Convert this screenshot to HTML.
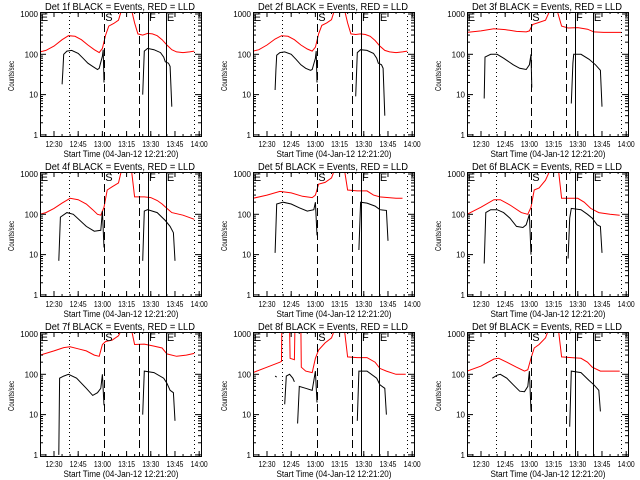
<!DOCTYPE html>
<html><head><meta charset="utf-8"><style>
body{margin:0;background:#fff;}
svg{display:block;}
text{font-family:"Liberation Sans",sans-serif;fill:#000;}
</style></head><body>
<svg id="chart" width="640" height="480" viewBox="0 0 640 480"></svg>
<script>
const panelTitles=["Det 1f BLACK = Events, RED = LLD","Det 2f BLACK = Events, RED = LLD","Det 3f BLACK = Events, RED = LLD","Det 4f BLACK = Events, RED = LLD","Det 5f BLACK = Events, RED = LLD","Det 6f BLACK = Events, RED = LLD","Det 7f BLACK = Events, RED = LLD","Det 8f BLACK = Events, RED = LLD","Det 9f BLACK = Events, RED = LLD"];
const xTickLabels=["12:30","12:45","13:00","13:15","13:30","13:45","14:00"];
const xTickMinutes=[30,45,60,75,90,105,120];
const yTickValues=[1,10,100,1000];
const yTickLabels=["1","10","100","1000"];
const markerTimes=[39.3,61,82.7,88.3,99.4,116.8];
const markerStyles=["dot","dash","dash","solid","solid","dot"];
const letterTimes=[21.8,61.8,88.9,100];
const letterLabels=["E","S","F","E"];
// minutes after 12:00
const redT=[
[21.3,25,30,35,39,43,47,51,55,58,60,62,64,67,70,72,78,80,82,85,88,91,94,97,100,103,106,110,114,117],
[21.3,25,30,35,39,43,47,51,55,58,60,62,64,67,70,72,78,80,82,85,88,91,94,97,100,103,106,110,114,117],
[21.3,30,38,45,52,58,60,62,66,70,73,77,80,84,90,96,100,106,117],
[21.3,25,30,35,40,45,50,54,57,59,61,63,66,70,72,78,80,86,90,94,97,100,103,110,117],
[21.3,30,38,45,52,58,60,62,66,70,72,78,80,86,92,96,100,110,114],
[21.3,30,38,42,48,55,59,61,63,66,70,73,78,80,86,90,94,98,103,110,116],
[21.3,30,36,40,45,50,55,58,60,62,66,70,72,78,80,86,92,97,100,106,112,117],
[21.3,30,38,39,39.2,44,44.3,47,47.3,51,51.3,54,58,60,62,66,70,72,78,80,86,92,97,100,104,110,116],
[21.3,30,38,41,46,52,57,59,61,63,66,70,72,78,80,86,92,96,99,104,110,116]];
const redV=[
[115,125,160,230,290,280,230,170,130,110,140,300,500,580,700,1300,1300,600,320,300,330,320,290,230,170,130,115,110,115,120],
[120,130,170,240,290,280,230,170,135,120,150,320,520,600,720,1300,1300,600,320,310,320,310,280,220,160,125,115,110,115,120],
[350,380,430,410,370,360,380,550,620,700,1300,1300,500,450,460,420,360,350,350],
[100,110,140,190,250,230,180,130,100,95,150,400,480,600,1300,1300,270,270,260,220,180,140,110,95,75],
[250,300,370,340,280,260,300,560,620,800,1300,1300,400,380,380,300,270,250,250],
[100,150,230,230,170,110,100,150,400,450,700,1300,1300,250,250,250,200,140,110,100,95],
[300,380,460,480,430,380,300,280,550,650,700,900,1300,1300,550,560,500,450,320,280,300,330],
[110,150,200,210,1300,1300,250,230,1300,1300,150,120,110,250,400,600,800,1300,1300,270,260,260,200,140,120,100,100],
[120,160,240,250,200,150,120,130,250,450,550,800,1300,1300,270,260,250,200,150,120,120,120]];
const blackT=[
[35,35.5,36,38,41,45,48,51,54,57,58,60,60.5,61,null,85,86,88,92,96,98,99,101,102,103],
[35,35.5,36,38,41,45,48,51,54,57,58,60,60.5,61,null,85,86,88,92,96,98,99,101,102,103],
[32,32.5,36,40,44,50,54,58,60,61,61.5,null,86,87,87.5,92,97,101,104,105],
[33,34,38,42,50,55,59,60,61,null,85,86,88,94,99,102,104,105],
[35,36,40,45,50,55,59,60,61,null,87,88,92,97,100,104,105],
[32,33,36,40,44,48,52,56,58,60,61,null,84,85,86,92,96,99,102,104,105],
[33,33.5,36,39,44,50,54,57,59,60,61,null,85,86,92,98,100,102,104,105],
[35,36,null,41,42,44,46,47,null,49,50,54,58,60,61,null,86,87,92,98,100,103,104],
[37,40,42,46,50,54,57,59,60,61,null,85,86,92,97,100,103,104]];
const blackV=[
[18,40,100,120,125,105,80,60,50,42,45,90,130,20,null,10,120,140,130,110,85,65,60,50,5],
[13,40,95,110,115,100,75,55,45,40,42,80,120,20,null,9,110,130,125,105,80,60,55,45,3],
[8,85,100,100,80,55,45,42,55,100,15,null,6,60,100,100,75,55,40,5],
[7,85,110,100,50,38,40,120,15,null,7,120,130,110,70,50,35,7],
[11,180,200,180,145,120,130,200,30,null,13,200,190,160,130,125,22],
[6,110,130,130,110,80,50,47,55,100,10,null,8,80,140,130,100,80,55,50,11],
[1,80,90,100,80,45,30,35,45,100,17,null,10,120,110,80,60,40,35,7],
[90,85,null,18,90,100,80,65,null,6,50,45,40,120,20,null,7,120,120,80,55,45,10],
[80,95,100,80,55,38,37,50,120,12,null,5,120,110,70,55,40,12]];

const NS="http://www.w3.org/2000/svg";
const svg=document.getElementById('chart');
function mk(tag,attrs,parent){const e=document.createElementNS(NS,tag);for(const k in attrs)e.setAttribute(k,attrs[k]);(parent||svg).appendChild(e);return e;}
const W=161,H=124,T0=21.33,PXM=161/99.8;
for(let p=0;p<9;p++){
  const c=p%3,r=Math.floor(p/3);
  const L=40+Math.round(213.33*c),Tp=12+160*r;
  const xs=t=>L+(t-T0)*PXM;
  const ys=v=>Tp+2+(3-Math.log10(v))*40.3;
  const g=mk('g',{});
  
  
  const cid='clip'+p;
  const cp=mk('clipPath',{id:cid},g);mk('rect',{x:L,y:Tp,width:W,height:H},cp);
  const ti=mk('text',{x:L+5,y:Tp-2,'font-size':10,textLength:150,lengthAdjust:'spacingAndGlyphs'},g);ti.textContent=panelTitles[p];
  
  
  let d='';redT[p].forEach((t,i)=>{d+=(i?'L':'M')+xs(t).toFixed(1)+' '+ys(redV[p][i]).toFixed(1);});
  const rp=mk('path',{d:d,fill:'none',stroke:'#f00','stroke-width':1,'clip-path':'url(#'+cid+')'},g);
  
  
  d='';let pen=false;blackT[p].forEach((t,i)=>{if(t===null){pen=false;return;}d+=(pen?'L':'M')+xs(t).toFixed(1)+' '+ys(blackV[p][i]).toFixed(1);pen=true;});
  const bp=mk('path',{d:d,fill:'none',stroke:'#000','stroke-width':1,'clip-path':'url(#'+cid+')'},g);
  
  
  markerTimes.forEach((t,i)=>{const x=Math.round(xs(t))+0.5;const s=markerStyles[i];
    const a={x1:x,x2:x,y1:Tp,y2:Tp+H,stroke:'#000','stroke-width':1};
    if(s==='dot')a['stroke-dasharray']='1 3';if(s==='dash')a['stroke-dasharray']='8 4';
    const ln=mk('line',a,g);
    
    });
  letterTimes.forEach((t,i)=>{const tx=mk('text',{x:xs(t),y:Tp+9,'font-size':11},g);tx.textContent=letterLabels[i];
    
    });
  const fr=mk('rect',{x:L+0.5,y:Tp+0.5,width:W,height:H,fill:'none',stroke:'#000','stroke-width':1},g);
  
  
  yTickValues.forEach((v,i)=>{const y=ys(v);
    mk('line',{x1:L,x2:L+6,y1:y,y2:y,stroke:'#000'},g);mk('line',{x1:L+W-6,x2:L+W,y1:y,y2:y,stroke:'#000'},g);
    const tx=mk('text',{x:L-2,y:y+3,'font-size':8,'text-anchor':'end'},g);tx.textContent=yTickLabels[i];
    
    
    if(v<1000)for(let m=2;m<10;m++){const yy=ys(v*m);mk('line',{x1:L,x2:L+3,y1:yy,y2:yy,stroke:'#000'},g);mk('line',{x1:L+W-3,x2:L+W,y1:yy,y2:yy,stroke:'#000'},g);}});
  xTickMinutes.forEach((t,i)=>{const x=xs(t);
    mk('line',{x1:x,x2:x,y1:Tp+H,y2:Tp+H-5,stroke:'#000'},g);mk('line',{x1:x,x2:x,y1:Tp,y2:Tp+5,stroke:'#000'},g);
    const tx=mk('text',{x:x-8.5,y:Tp+H+11,'font-size':8,textLength:17,lengthAdjust:'spacingAndGlyphs'},g);tx.textContent=xTickLabels[i];
    
    });
  for(let t=25;t<=120;t+=5){const x=xs(t);mk('line',{x1:x,x2:x,y1:Tp+H,y2:Tp+H-2,stroke:'#000'},g);mk('line',{x1:x,x2:x,y1:Tp,y2:Tp+2,stroke:'#000'},g);}
  const xt=mk('text',{x:L+W/2-57,y:Tp+H+21,'font-size':9,textLength:115,lengthAdjust:'spacingAndGlyphs'},g);xt.textContent='Start Time (04-Jan-12 12:21:20)';
  
  
  const yt=mk('text',{x:-15,y:0,'font-size':8,textLength:30,lengthAdjust:'spacingAndGlyphs',transform:'translate('+(L-26)+','+(Tp+H/2+2)+') rotate(-90)'},g);yt.textContent='Counts/sec';
  
  
}
</script>
</body></html>
